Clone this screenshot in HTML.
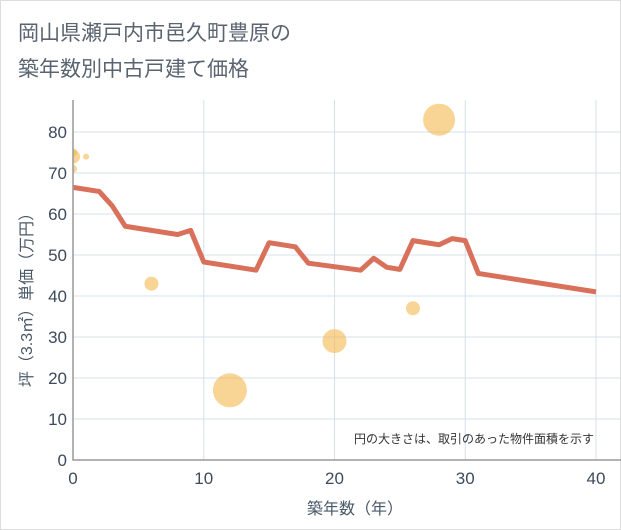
<!DOCTYPE html>
<html><head><meta charset="utf-8"><style>
body{margin:0;background:#fff;}
.wrap{width:619px;height:528px;border:1px solid #ddd;position:relative;font-family:"Liberation Sans","Noto Sans CJK JP",sans-serif;}
</style></head><body>
<div class="wrap">
<svg id="c" width="621" height="530" style="position:absolute;left:-1px;top:-1px">
<text x="18" y="40" font-size="21" fill="#5a6470" font-family="Liberation Sans,Noto Sans CJK JP,sans-serif">岡山県瀬戸内市邑久町豊原の</text>
<text x="18" y="76" font-size="21" fill="#5a6470" font-family="Liberation Sans,Noto Sans CJK JP,sans-serif">築年数別中古戸建て価格</text>
<g id="grid"></g><g id="marks"></g><g id="axes"></g>
<text x="594" y="443" font-size="12" fill="#333" text-anchor="end" font-family="Liberation Sans,Noto Sans CJK JP,sans-serif">円の大きさは、取引のあった物件面積を示す</text>
<text x="355" y="514" font-size="16" fill="#4a5868" text-anchor="middle" font-family="Liberation Sans,Noto Sans CJK JP,sans-serif">築年数（年）</text>
<text transform="translate(32,296) rotate(-90)" font-size="16" fill="#4a5868" text-anchor="middle" font-family="Liberation Sans,Noto Sans CJK JP,sans-serif">坪（3.3㎡）単価（万円）</text>
</svg>
</div>
<script>
const xTicks=[0,10,20,30,40];
const yTicks=[0,10,20,30,40,50,60,70,80];
const lineAges=[0,2,3,4,8,9,10,14,15,17,18,22,23,24,25,26,28,29,30,31,40];
const linePrices=[66.5,65.5,62,57,55,56,48.3,46.3,53,52,48,46.3,49.2,47,46.5,53.5,52.5,54,53.5,45.5,41];
const bubbleAges=[0,0,0,1,6,12,20,26,28];
const bubblePrices=[75,74,71,74,43,17,29,37,83];
const bubbleSizes=[4,7,4,3,7,17,12,7,16];
const X0=73,X1=596,Y0=460,Y1=132;
const sx=v=>X0+(v-0)/40*(X1-X0);
const sy=v=>Y0-(v/80)*(Y0-Y1);
const NS="http://www.w3.org/2000/svg";
function mk(t,p,a){const e=document.createElementNS(NS,t);for(const k in a)e.setAttribute(k,a[k]);p.appendChild(e);return e;}
const grid=document.getElementById('grid'),marks=document.getElementById('marks'),axes=document.getElementById('axes');
yTicks.forEach(v=>{const l=mk('line',grid,{x1:X0,x2:X1+25,y1:sy(v),y2:sy(v),stroke:'#d5e0ea','stroke-width':1});


const t=mk('text',axes,{x:X0-6,y:sy(v)+6,'font-size':17,fill:'#3d4b5c','text-anchor':'end'});t.textContent=v;

});
xTicks.forEach(v=>{if(v>0){const l=mk('line',grid,{x1:sx(v),x2:sx(v),y1:100,y2:Y0,stroke:'#d5e0ea','stroke-width':1});

}
const t=mk('text',axes,{x:sx(v),y:Y0+24,'font-size':17,fill:'#3d4b5c','text-anchor':'middle'});t.textContent=v;

});
const ax=mk('path',axes,{d:`M${X0},100V${Y0}H${X1+25}`,stroke:'#999',fill:'none','stroke-width':1.5});


const cp=mk('clipPath',marks,{id:'clip'});mk('rect',cp,{x:X0,y:90,width:560,height:380});
const bg=mk('g',marks,{'clip-path':'url(#clip)'});
bubbleAges.forEach((a,i)=>{const c=mk('circle',bg,{cx:sx(a),cy:sy(bubblePrices[i]),r:bubbleSizes[i],fill:'#f3b84f','fill-opacity':0.6});

});
const pl=mk('polyline',marks,{points:lineAges.map((a,i)=>sx(a)+','+sy(linePrices[i])).join(' '),fill:'none',stroke:'#d9705a','stroke-width':5,'stroke-linejoin':'round'});


</script>
</body></html>
